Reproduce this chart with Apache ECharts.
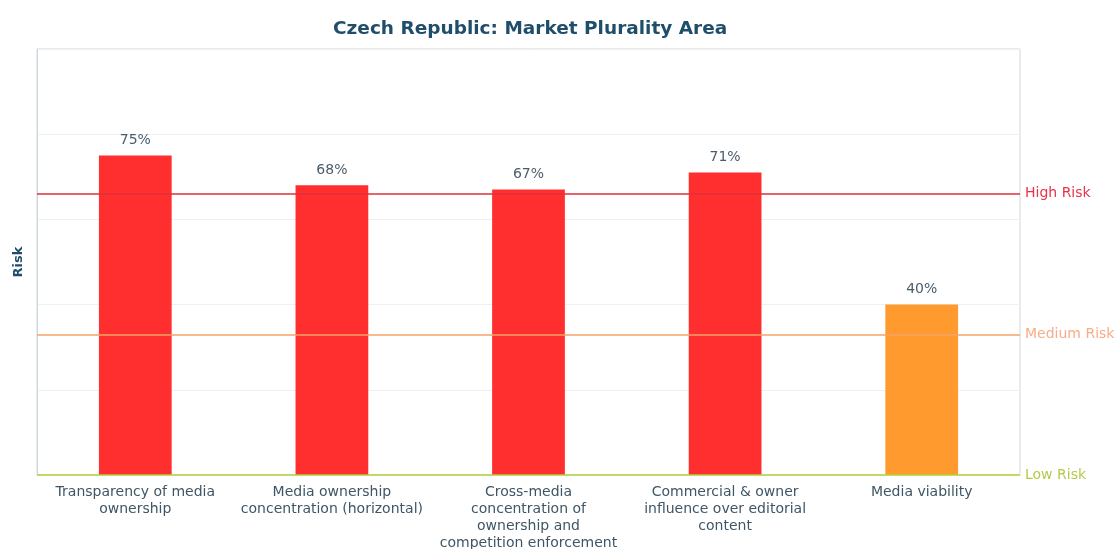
<!DOCTYPE html>
<html>
<head>
<meta charset="utf-8">
<script src="https://cdn.jsdelivr.net/npm/echarts@6/dist/echarts.min.js"></script>
<style>html,body{margin:0;padding:0;background:#fff;}#chart{width:1118px;height:549px;}</style>
</head>
<body>
<div id="chart"></div>
<script>
const title = "Czech Republic: Market Plurality Area";
const categories = [
  "Transparency of media\nownership",
  "Media ownership\nconcentration (horizontal)",
  "Cross-media\nconcentration of\nownership and\ncompetition enforcement",
  "Commercial & owner\ninfluence over editorial\ncontent",
  "Media viability"
];
const values = [75, 68, 67, 71, 40];
const barColors = ["#ff2f2f", "#ff2f2f", "#ff2f2f", "#ff2f2f", "#ff9a2e"];
const thresholds = [
  { name: "High Risk", value: 66, line: "#e0303a", text: "#e8324a" },
  { name: "Medium Risk", value: 33, line: "#f4a36a", text: "#f6ad88" },
  { name: "Low Risk", value: 0, line: "#b5d334", text: "#b7c94a" }
];

const chart = echarts.init(document.getElementById('chart'));
chart.setOption({
  animation: false,
  textStyle: { fontFamily: 'DejaVu Sans' },
  title: {
    text: title, left: 328, top: 15,
    textStyle: { fontFamily: 'DejaVu Sans', fontWeight: 'bold', fontSize: 18.5, color: '#1f4e6b' }
  },
  grid: { left: 37, right: 98, top: 49, bottom: 74, show: true, borderColor: '#cfd8dc', borderWidth: 1,
          outerBoundsMode: 'none', containLabel: false },
  xAxis: {
    type: 'category', data: categories,
    axisTick: { show: false },
    axisLine: { show: false },
    axisLabel: { color: '#3f5666', fontSize: 14, lineHeight: 17, margin: 9, interval: 0 }
  },
  yAxis: {
    type: 'value', min: 0, max: 100, interval: 20,
    name: 'Risk', nameLocation: 'middle', nameGap: 12, nameRotate: 90,
    nameTextStyle: { color: '#1f4e6b', fontWeight: 'bold', fontSize: 13 },
    axisLabel: { show: false },
    axisTick: { show: false },
    axisLine: { show: true, lineStyle: { color: '#cfd8dc' } },
    splitLine: { show: true, lineStyle: { color: '#eef1f3' } }
  },
  series: [{
    type: 'bar',
    barWidth: '37%',
    data: values.map((v, i) => ({ value: v, itemStyle: { color: barColors[i] } })),
    label: { show: true, position: 'top', distance: 8, formatter: '{c}%', color: '#4a5d6c', fontSize: 14 },
    markLine: {
      symbol: 'none', silent: true,
      data: thresholds.map(t => ({
        yAxis: t.value,
        lineStyle: { color: t.line, width: 1.5, type: 'solid' },
        label: { formatter: t.name, position: 'end', distance: 5, color: t.text, fontSize: 14 }
      }))
    }
  }]
});
</script>
</body>
</html>
